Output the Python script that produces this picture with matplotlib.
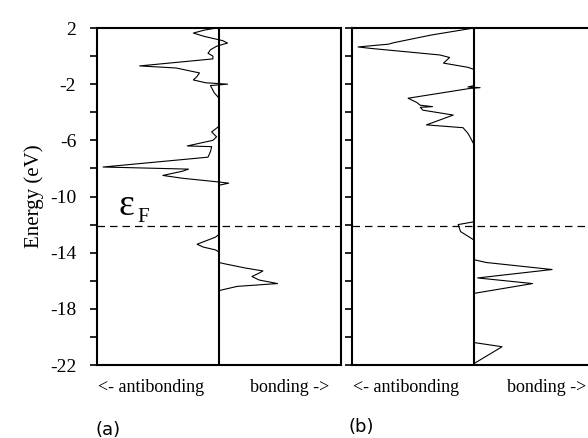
import matplotlib
matplotlib.use("Agg")
import matplotlib.pyplot as plt

# ---- data (energy in eV, COOP value; negative = antibonding) ----
energy_a = [2.0, 1.85, 1.64, 1.4, 1.1, 0.93, 0.7, 0.45, 0.2, 0.0, -0.2, -0.7, -0.85,
            -1.2, -1.45, -1.7, -1.9, -2.0, -2.1, -2.6, -3.0, -5.0, -5.4, -5.75, -6.0,
            -6.4, -6.45, -6.8, -7.2, -7.9, -8.05, -8.2, -8.5, -8.7, -8.95, -9.05, -9.2,
            -12.7, -12.9, -13.2, -13.4, -13.6, -13.8, -13.95, -14.7, -14.8, -15.1,
            -15.3, -15.45, -15.7, -15.95, -16.2, -16.4, -16.7, -22.0]
coop_a = [-0.02, -0.12, -0.21, -0.12, 0.03, 0.07, -0.02, -0.07, -0.09, -0.05, -0.05,
          -0.65, -0.35, -0.16, -0.18, -0.21, -0.11, 0.07, -0.07, -0.04, 0.0, 0.0,
          -0.06, -0.02, -0.05, -0.26, -0.06, -0.07, -0.09, -0.95, -0.25, -0.3, -0.46,
          -0.3, -0.02, 0.08, 0.0, 0.0, -0.03, -0.12, -0.18, -0.13, -0.03, 0.0, 0.0,
          0.05, 0.22, 0.36, 0.33, 0.27, 0.33, 0.48, 0.15, 0.0, 0.0]

energy_b = [2.0, 1.5, 0.95, 0.85, 0.65, 0.55, 0.08, -0.1, -0.5, -0.8, -0.95, -2.1,
            -2.2, -2.25, -2.3, -3.0, -3.3, -3.5, -3.6, -3.65, -3.85, -4.2, -4.9, -5.1,
            -5.5, -5.8, -6.3, -11.8, -12.0, -12.5, -13.1, -14.5, -14.7, -15.2, -15.8,
            -16.2, -16.9, -20.4, -20.7, -21.9, -22.0]
coop_b = [0.0, -0.35, -0.66, -0.7, -0.95, -0.85, -0.28, -0.2, -0.25, -0.05, 0.0, 0.0,
          -0.05, 0.05, -0.03, -0.54, -0.47, -0.44, -0.34, -0.44, -0.42, -0.17, -0.39,
          -0.09, -0.05, -0.03, 0.0, 0.0, -0.13, -0.11, 0.0, 0.0, 0.1, 0.64, 0.03,
          0.48, 0.0, 0.0, 0.23, 0.0, 0.0]

fermi_level = -12.1
ytick_major = [2, -2, -6, -10, -14, -18, -22]
ytick_minor = [0, -4, -8, -12, -16, -20]
ytick_labels = ["2", "-2", "-6", "-10", "-14", "-18", "-22"]
panel_labels = ["(a)", "(b)"]

plt.rcParams['font.family'] = ['Liberation Serif', 'DejaVu Serif']

fig = plt.figure(figsize=(5.88, 4.38), dpi=100)
W, H = 588, 438
bottom = 1 - 365 / H
top = 1 - 28 / H
ax_a = fig.add_axes([97 / W, bottom, (341 - 97) / W, top - bottom])
ax_b = fig.add_axes([352 / W, bottom, (596 - 352) / W, top - bottom])

for ax, e, c in [(ax_a, energy_a, coop_a), (ax_b, energy_b, coop_b)]:
    ax.plot(c, e, color='black', lw=0.8)
    ax.axvline(0, color='black', lw=1.5)
    ax.axhline(fermi_level, color='black', lw=0.9, ls=(0, (6, 4)))
    ax.set_xlim(-1, 1)
    ax.set_ylim(-22, 2)
    ax.set_xticks([])
    ax.set_yticks(ytick_major)
    ax.set_yticks(ytick_minor, minor=True)
    ax.tick_params(axis='y', which='both', direction='out', length=5, width=1.2)
    for s in ax.spines.values():
        s.set_linewidth(1.5)

ax_a.set_yticklabels(ytick_labels, fontsize=14)
ax_a.tick_params(axis='y', pad=10)
ax_b.set_yticklabels([])
ax_a.set_ylabel("Energy (eV)", fontsize=15, labelpad=4)

ax_a.text(-0.82, -11.3, "ε", fontsize=27, ha='left', va='baseline')
ax_a.text(-0.665, -11.8, "F", fontsize=15, ha='left', va='baseline')

fs = 13
fig.text(151 / W, 1 - 387 / H, "<- antibonding", fontsize=fs, ha='center', va='center')
fig.text(290 / W, 1 - 387 / H, "bonding ->", fontsize=fs, ha='center', va='center')
fig.text(406 / W, 1 - 387 / H, "<- antibonding", fontsize=fs, ha='center', va='center')
fig.text(547 / W, 1 - 387 / H, "bonding ->", fontsize=fs, ha='center', va='center')
fig.text(108 / W, 1 - 430 / H, panel_labels[0], fontsize=13, ha='center', va='center',
         family='DejaVu Sans')
fig.text(361 / W, 1 - 427 / H, panel_labels[1], fontsize=13, ha='center', va='center',
         family='DejaVu Sans')

fig.savefig("out.png", dpi=100)
